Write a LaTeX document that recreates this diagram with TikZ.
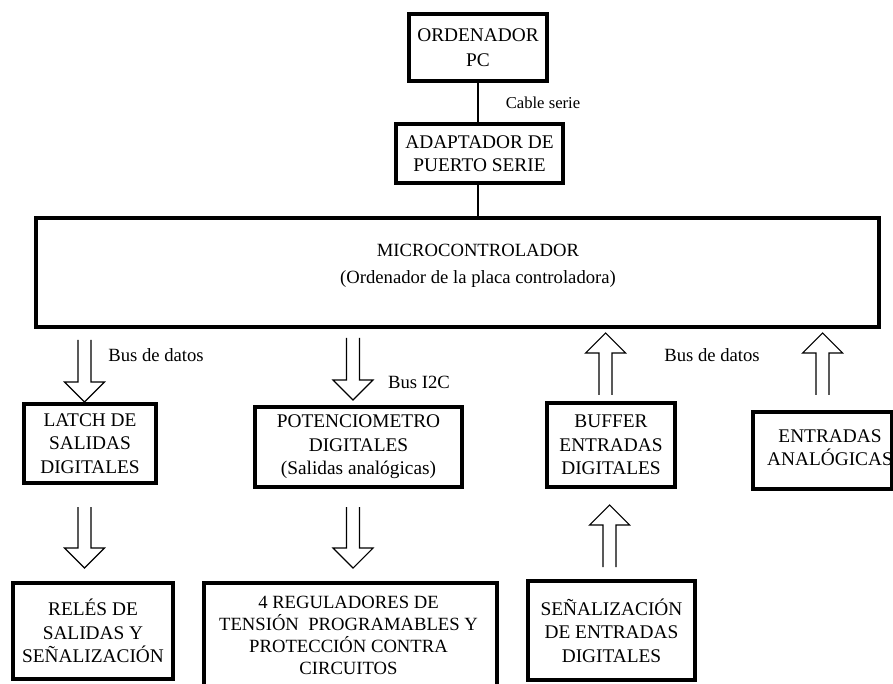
\documentclass[tikz,border=0pt]{standalone}
\usepackage{fontspec}
\setmainfont{Liberation Serif}
\newcommand\hdn[3]{\draw[hollow] ({#1-6.5},#2) -- ({#1-6.5},{#3-20}) -- ({#1-20},{#3-20}) -- (#1,#3) -- ({#1+20},{#3-20}) -- ({#1+6.5},{#3-20}) -- ({#1+6.5},#2);}
\newcommand\hup[3]{\draw[hollow] ({#1-6.5},#2) -- ({#1-6.5},{#3+20}) -- ({#1-20},{#3+20}) -- (#1,#3) -- ({#1+20},{#3+20}) -- ({#1+6.5},{#3+20}) -- ({#1+6.5},#2);}
\begin{document}
\begin{tikzpicture}[x=0.75pt,y=-0.75pt,
  blk/.style={draw,line width=2.3pt,inner sep=0pt,align=center,font=\fontsize{14.5pt}{17.5pt}\selectfont},
  lbl/.style={inner sep=0pt,align=center,font=\fontsize{14pt}{17.5pt}\selectfont},
  hollow/.style={line width=0.8pt,line join=miter},
  wire/.style={line width=0.8pt}]
\useasboundingbox (0,0) rectangle (893,684);
% boxes
\node[blk,minimum width=103.5pt,minimum height=50.25pt] (pc) at (478,47.5) {ORDENADOR\\[1pt]PC};
\node[blk,minimum width=125.25pt,minimum height=44.25pt] (adp) at (479.5,153.5) {ADAPTADOR DE\\PUERTO SERIE};
\node[blk,minimum width=632.25pt,minimum height=81.75pt] (mc) at (457.5,272.5) {};
\node[lbl] (mctxt) at (478,266) {MICROCONTROLADOR\\[3pt](Ordenador de la placa controladora)};
\node[blk,minimum width=99pt,minimum height=59.25pt] (latch) at (90,443.5) {LATCH DE\\SALIDAS\\DIGITALES};
\node[blk,minimum width=155.25pt,minimum height=60pt] (pot) at (358.5,447) {POTENCIOMETRO\\DIGITALES\\(Salidas analógicas)};
\node[blk,minimum width=96pt,minimum height=63pt] (buf) at (611,445) {BUFFER\\ENTRADAS\\DIGITALES};
\node[blk,minimum width=104.25pt,minimum height=57.75pt] (ana) at (822.5,450.5) {};
\node[lbl,font=\fontsize{14.5pt}{17.5pt}\selectfont] (anatxt) at (830,448) {ENTRADAS\\ANALÓGICAS};
\node[blk,minimum width=120pt,minimum height=72pt] (rel) at (93,631) {RELÉS DE\\SALIDAS Y\\SEÑALIZACIÓN};
\node[blk,minimum width=219.75pt,minimum height=87.75pt] (reg) at (350.5,641.5) {};
\node[lbl,font=\fontsize{14pt}{16.5pt}\selectfont] (regtxt) at (348.5,635) {4 REGULADORES DE\\TENSIÓN\ \ PROGRAMABLES Y\\PROTECCIÓN CONTRA\\CIRCUITOS};
\node[blk,minimum width=125.25pt,minimum height=74.25pt] (sen) at (611.5,630.5) {SEÑALIZACIÓN\\DE ENTRADAS\\DIGITALES};
% wires
\draw[wire] (pc.south) -- (pc.south |- adp.north);
\draw[wire] (adp.south -| pc.south) -- (pc.south |- mc.north);
% labels
\node[lbl,font=\fontsize{12.5pt}{15pt}\selectfont] (cable) at (543,103) {Cable serie};
\node[lbl] (bus1) at (156,355) {Bus de datos};
\node[lbl] (bus2) at (419,382) {Bus I2C};
\node[lbl] (bus3) at (712,355) {Bus de datos};
% hollow arrows
\hdn{84.5}{340}{402}
\hdn{353}{338}{400}
\hdn{84.5}{507}{568}
\hdn{353}{507}{568}
\hup{605.5}{395}{333}
\hup{822.5}{395}{333}
\hup{609.5}{567}{505}
\end{tikzpicture}
\end{document}
